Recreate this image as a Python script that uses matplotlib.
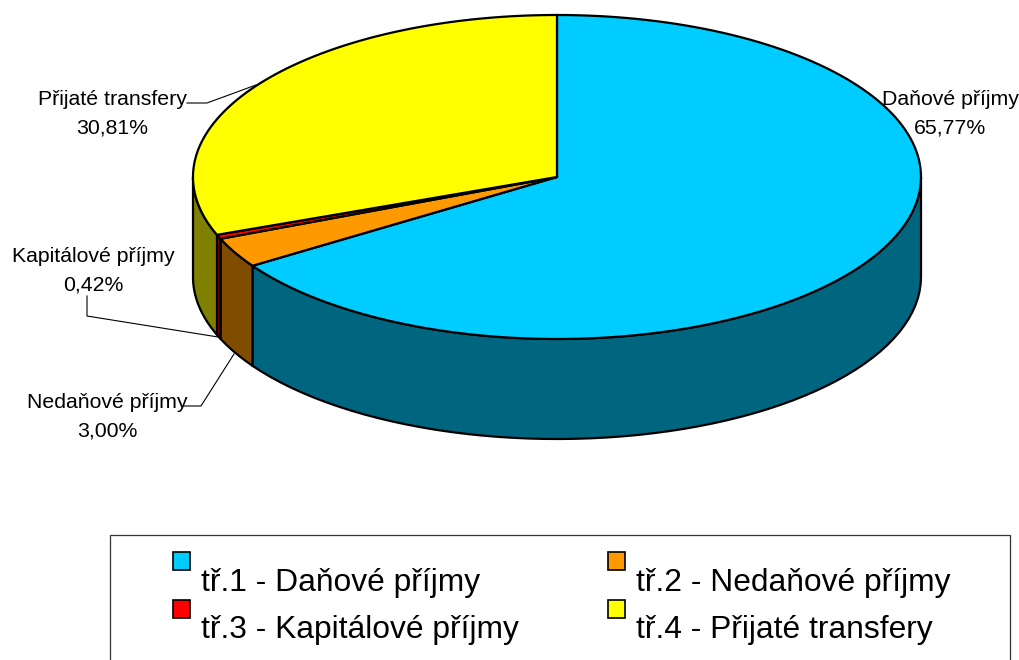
import numpy as np
import matplotlib
matplotlib.use('Agg')
import matplotlib.pyplot as plt
from matplotlib.patches import Polygon, Rectangle

plt.rcParams['font.family'] = ['Liberation Sans', 'DejaVu Sans']

# data
categories = ['Daňové příjmy', 'Nedaňové příjmy', 'Kapitálové příjmy', 'Přijaté transfery']
values = [65.77, 3.00, 0.42, 30.81]
pct_labels = ['65,77%', '3,00%', '0,42%', '30,81%']
legend_labels = ['tř.1 - Daňové příjmy', 'tř.2 - Nedaňové příjmy', 'tř.3 - Kapitálové příjmy', 'tř.4 - Přijaté transfery']
top_colors = ['#00ccff', '#ff9900', '#ff0000', '#ffff00']
side_colors = ['#006680', '#804d00', '#800000', '#808000']

fig = plt.figure(figsize=(10.2, 6.6), dpi=100)
ax = fig.add_axes([0, 0, 1, 1])
ax.set_xlim(0, 1020)
ax.set_ylim(660, 0)
ax.axis('off')

cx, cy = 557, 177
rx, ry = 364, 162
depth = 100


def point(a, dy=0):
    return cx + rx * np.sin(a), cy - ry * np.cos(a) + dy


# slices run clockwise from 12 o'clock
edges = np.concatenate([[0], np.cumsum(values)]) / sum(values) * 2 * np.pi

# outer wall, only the front half is seen
for i in range(len(values)):
    a0 = max(edges[i], np.pi / 2)
    a1 = min(edges[i + 1], 3 * np.pi / 2)
    if a1 <= a0:
        continue
    t = np.linspace(a0, a1, 60)
    x, y = point(t)
    xb, yb = point(t[::-1], depth)
    ax.add_patch(Polygon(np.r_[np.c_[x, y], np.c_[xb, yb]], fc=side_colors[i], ec='black', lw=1.6))

# top face
for i in range(len(values)):
    t = np.linspace(edges[i], edges[i + 1], 150)
    x, y = point(t)
    ax.add_patch(Polygon(np.r_[[[cx, cy]], np.c_[x, y]], fc=top_colors[i], ec='black', lw=1.6))

# labels and leader lines
ax.plot([187, 207, 256], [103, 103, 85], color='black', lw=0.8)
ax.plot([87, 87, 218], [296, 316, 337], color='black', lw=0.8)
ax.plot([184, 201, 234], [406, 406, 354], color='black', lw=0.8)
label_pos = [(950, 114), (107, 417), (93, 271), (112, 114)]
for name, pct, (lx, ly) in zip(categories, pct_labels, label_pos):
    ax.text(lx, ly, name + '\n' + pct, ha='center', va='center', fontsize=15.3, linespacing=1.65)

# legend box
ax.add_patch(Rectangle((110, 535), 900, 140, fc='white', ec='#333333', lw=0.9))
box_pos = [(173, 552), (608, 552), (173, 600), (608, 600)]
text_pos = [(201, 583), (636, 583), (201, 630), (636, 630)]
for i in range(4):
    ax.add_patch(Rectangle(box_pos[i], 17, 18, fc=top_colors[i], ec='black', lw=1.2))
    ax.text(text_pos[i][0], text_pos[i][1], legend_labels[i], ha='left', va='center', fontsize=22.9)

fig.savefig('out.png', dpi=100)
